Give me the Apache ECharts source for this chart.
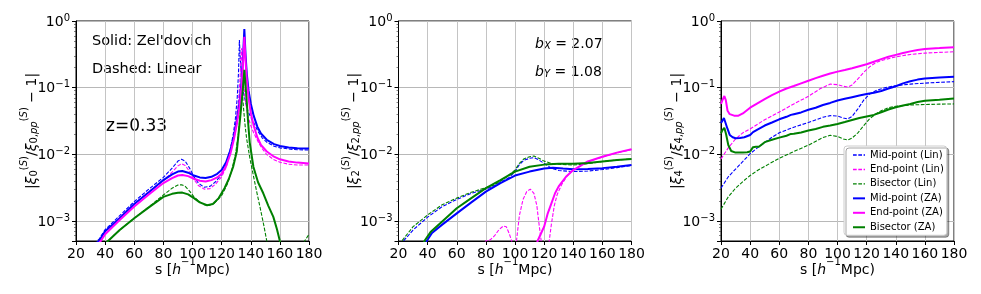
<!DOCTYPE html>
<html><head><meta charset="utf-8">
<script src="https://cdn.jsdelivr.net/npm/echarts@6/dist/echarts.min.js"></script>
<style>html,body{margin:0;padding:0;background:#fff}#c{width:981px;height:294px}</style>
</head><body><div id="c"></div>
<script>
// ---------- axes / ticks ----------
const xTicks = [20, 40, 60, 80, 100, 120, 140, 160, 180];
const yDecades = [1e-3, 1e-2, 1e-1, 1];
const yMin = 5e-4, yMax = 1;
const legendNames = ['Mid-point (Lin)', 'End-point (Lin)', 'Bisector (Lin)', 'Mid-point (ZA)', 'End-point (ZA)', 'Bisector (ZA)'];
const multipoles = ['0', '2', '4'];

// ---------- panel 1 : monopole ----------
const p0MidLin = [[20,2.3e-4],[30,3.9e-4],[36,5.4e-4],[40,7.4e-4],[50,1.2e-3],[60,1.95e-3],[70,3.0e-3],[80,4.5e-3],[86,6.2e-3],[90,7.9e-3],[92.5,8.4e-3],[95,7.9e-3],[98,6.2e-3],[101,4.6e-3],[104,3.7e-3],[108,3.2e-3],[112,3.3e-3],[116,3.9e-3],[120,5.0e-3],[123,7.0e-3],[126,0.012],[128,0.02],[129.5,0.035],[130.7,0.07],[131.6,0.17],[132.2,0.52],[132.9,0.25],[133.8,0.13],[135,0.085],[136.5,0.06],[138,0.045],[140,0.036],[142,0.03],[145,0.022],[148,0.0175],[151,0.0152],[156,0.0132],[160,0.0125],[166,0.012],[172,0.0117],[180,0.0116]];
const p0EndLin = [[20,2.1e-4],[30,3.6e-4],[37,5.2e-4],[40,6.8e-4],[50,1.13e-3],[60,1.8e-3],[70,2.75e-3],[80,4.0e-3],[86,5.4e-3],[90,6.7e-3],[92.5,7.2e-3],[95,6.8e-3],[98,5.5e-3],[101,4.2e-3],[104,3.4e-3],[108,3.0e-3],[112,3.05e-3],[116,3.6e-3],[120,4.6e-3],[123,6.3e-3],[126,0.0105],[128,0.017],[130,0.032],[131.5,0.06],[132.5,0.12],[133.6,0.39],[134.4,0.2],[135.3,0.1],[136.5,0.06],[138,0.038],[140,0.027],[142,0.021],[145,0.0155],[148,0.012],[151,0.0099],[156,0.0083],[160,0.0076],[166,0.0071],[172,0.0069],[180,0.0069]];
const p0BisLin = [[20,1.6e-4],[30,2.8e-4],[42,5e-4],[50,7.3e-4],[60,1.1e-3],[70,1.62e-3],[80,2.45e-3],[86,3.1e-3],[90,3.45e-3],[92.5,3.5e-3],[95,3.3e-3],[98,2.8e-3],[101,2.3e-3],[104,2.0e-3],[108,1.75e-3],[111,1.7e-3],[115,1.85e-3],[120,2.4e-3],[124,3.6e-3],[127,5.8e-3],[129.5,0.01],[131.5,0.02],[133,0.045],[134.2,0.085],[135.2,0.045],[136.2,0.026],[137.2,0.017],[139.5,8.5e-3],[141.8,4.8e-3],[144,2.8e-3],[146.4,1.6e-3],[149,8.5e-4],[151,5e-4],[154,2.5e-4],[160,8e-5],[168,8e-5],[173,2.5e-4],[177,5e-4],[180,6.3e-4]];
const p0MidZA = [[20,2.2e-4],[30,3.7e-4],[36,5.1e-4],[40,7.0e-4],[50,1.1e-3],[60,1.8e-3],[70,2.7e-3],[80,4.1e-3],[86,5.0e-3],[90,5.5e-3],[93,5.6e-3],[97,5.3e-3],[101,4.8e-3],[105,4.5e-3],[109,4.4e-3],[113,4.6e-3],[117,5.1e-3],[120,5.8e-3],[123,7.5e-3],[126,0.0115],[128.5,0.019],[130.5,0.033],[132.3,0.06],[133.6,0.12],[134.6,0.26],[135.6,0.76],[136.4,0.32],[137.3,0.16],[138.5,0.09],[140,0.058],[142,0.038],[144.5,0.026],[147,0.0205],[151,0.0165],[156,0.0142],[160,0.0133],[166,0.0126],[172,0.0123],[180,0.0122]];
const p0EndZA = [[20,2.0e-4],[30,3.4e-4],[37,5e-4],[40,6.3e-4],[50,1.03e-3],[60,1.65e-3],[70,2.5e-3],[80,3.7e-3],[86,4.4e-3],[90,4.8e-3],[93,4.9e-3],[97,4.7e-3],[101,4.3e-3],[105,4.0e-3],[109,3.9e-3],[113,4.1e-3],[117,4.5e-3],[120,5.1e-3],[123,6.6e-3],[126,0.0102],[128.5,0.017],[130.5,0.029],[132.3,0.052],[133.6,0.1],[134.6,0.21],[135.6,0.58],[136.4,0.26],[137.3,0.13],[138.5,0.07],[140,0.042],[142,0.027],[144.5,0.018],[147,0.0138],[151,0.011],[156,0.0092],[160,0.0084],[166,0.0078],[172,0.0075],[180,0.0073]];
const p0BisZA = [[20,1.6e-4],[30,2.8e-4],[42,5e-4],[50,7.3e-4],[60,1.1e-3],[70,1.6e-3],[80,2.3e-3],[86,2.55e-3],[90,2.65e-3],[93,2.66e-3],[97,2.5e-3],[101,2.2e-3],[105,1.9e-3],[110,1.72e-3],[114,1.8e-3],[118,2.2e-3],[122,3.1e-3],[125,4.3e-3],[128,6.6e-3],[130.4,0.011],[132.7,0.035],[134.3,0.08],[135.6,0.185],[136.4,0.11],[137.3,0.06],[138.2,0.03],[139.3,0.015],[141.8,6.5e-3],[145,3.8e-3],[148.6,2.6e-3],[152,1.7e-3],[155.5,1.15e-3],[158,7.5e-4],[160,5e-4],[165,2e-4]];

// ---------- panel 2 : quadrupole ----------
const p1MidLin = [[20,3.0e-4],[23.4,5e-4],[30,7.3e-4],[40,1.14e-3],[50,1.64e-3],[60,2.1e-3],[70,2.6e-3],[80,3.0e-3],[86,3.4e-3],[92,4.0e-3],[96,4.5e-3],[100,5.5e-3],[103,7.0e-3],[106,8.1e-3],[110,8.7e-3],[113,8.9e-3],[116,8.3e-3],[120,7.3e-3],[125,6.2e-3],[130,5.7e-3],[140,5.5e-3],[150,5.6e-3],[160,5.9e-3],[170,6.3e-3],[180,6.8e-3]];
const p1EndLin = [[60,1e-4],[70,2.2e-4],[76,3.8e-4],[80,5.0e-4],[83,5.2e-4],[86,6.0e-4],[89,7.4e-4],[92,8.4e-4],[94,8.2e-4],[96,6.5e-4],[97.7,5e-4],[99,2e-4],[99.5,1e-5],[100,2e-4],[101,5e-4],[103,1.2e-3],[105.5,2.1e-3],[108,2.75e-3],[110.5,3.0e-3],[113,2.6e-3],[115,1.7e-3],[116.5,9e-4],[118,5e-4],[119.5,2e-4],[121,1e-5],[122,2e-4],[123.5,5e-4],[125,9e-4],[127,1.7e-3],[129,2.5e-3],[132,3.5e-3],[136,4.8e-3],[140,5.8e-3],[150,7.7e-3],[160,9.1e-3],[170,0.0105],[180,0.0118]];
const p1BisLin = [[20,3.6e-4],[22.3,5e-4],[30,8.2e-4],[40,1.23e-3],[50,1.75e-3],[60,2.2e-3],[70,2.7e-3],[80,3.15e-3],[86,3.5e-3],[92,4.2e-3],[96,4.9e-3],[100,5.8e-3],[103,7.3e-3],[106,8.5e-3],[110,9.2e-3],[113,9.4e-3],[116,8.8e-3],[120,7.9e-3],[125,7.3e-3],[130,7.1e-3],[140,6.9e-3],[150,7.2e-3],[160,7.8e-3],[170,8.2e-3],[180,8.5e-3]];
const p1MidZA = [[36,3e-4],[39.4,5e-4],[43,6.6e-4],[50,8.8e-4],[60,1.3e-3],[70,1.9e-3],[80,2.75e-3],[90,3.7e-3],[100,4.8e-3],[110,5.5e-3],[120,6.1e-3],[126,6.3e-3],[133,6.1e-3],[140,5.95e-3],[150,6.0e-3],[160,6.2e-3],[170,6.5e-3],[180,6.9e-3]];
const p1EndZA = [[110,1e-4],[113,3e-4],[115.5,5e-4],[118,6.6e-4],[120,8.2e-4],[122.5,1.3e-3],[125,1.84e-3],[127.5,2.6e-3],[130,3.3e-3],[135,4.6e-3],[140,5.8e-3],[150,7.8e-3],[160,9.2e-3],[170,0.0106],[180,0.0119]];
const p1BisZA = [[34,3e-4],[37.8,5e-4],[42,6.8e-4],[50,9.8e-4],[60,1.55e-3],[70,2.2e-3],[80,3.1e-3],[90,4.1e-3],[100,5.5e-3],[110,6.5e-3],[120,7.0e-3],[130,7.2e-3],[140,7.2e-3],[150,7.4e-3],[160,7.8e-3],[170,8.2e-3],[180,8.5e-3]];

// ---------- panel 3 : hexadecapole ----------
const p2MidLin = [[20,3.1e-3],[25,4.6e-3],[30,6.0e-3],[35,7.8e-3],[40,0.0102],[45,0.0125],[50,0.015],[55,0.018],[60,0.021],[70,0.0255],[80,0.030],[90,0.036],[95,0.038],[100,0.0375],[104,0.035],[107,0.034],[110,0.037],[114,0.048],[118,0.065],[122,0.08],[127,0.092],[133,0.1],[140,0.107],[150,0.113],[160,0.117],[170,0.12],[180,0.123]];
const p2EndLin = [[20,8.5e-3],[25,0.0125],[30,0.017],[35,0.021],[40,0.024],[50,0.033],[60,0.043],[70,0.057],[80,0.074],[88,0.096],[95,0.113],[100,0.111],[104,0.105],[107,0.102],[110,0.11],[114,0.135],[118,0.17],[122,0.205],[126,0.235],[130,0.255],[140,0.29],[150,0.315],[160,0.33],[170,0.338],[180,0.345]];
const p2BisLin = [[20,1.5e-3],[25,2.3e-3],[30,3.1e-3],[35,3.9e-3],[40,4.8e-3],[45,5.7e-3],[50,6.6e-3],[60,8.7e-3],[70,0.011],[80,0.0137],[90,0.0178],[95,0.0193],[100,0.0185],[104,0.017],[107,0.0164],[110,0.0175],[114,0.021],[118,0.027],[122,0.034],[126,0.04],[130,0.045],[135,0.05],[140,0.0525],[150,0.055],[160,0.0558],[170,0.0565],[180,0.057]];
const p2MidZA = [[20,0.0295],[21,0.032],[22,0.035],[23,0.033],[24.5,0.024],[26,0.0195],[28,0.018],[30,0.0174],[33,0.0175],[36,0.018],[40,0.0195],[42,0.0215],[45,0.0235],[50,0.027],[55,0.030],[60,0.0335],[65,0.0365],[68,0.039],[70,0.040],[75,0.0425],[80,0.0465],[85,0.05],[90,0.055],[95,0.059],[100,0.064],[105,0.068],[110,0.072],[115,0.076],[120,0.080],[125,0.084],[130,0.089],[135,0.097],[140,0.105],[145,0.116],[150,0.125],[155,0.132],[160,0.137],[170,0.142],[180,0.146]];
const p2EndZA = [[20,0.057],[21,0.065],[22.3,0.075],[23.3,0.065],[24.5,0.045],[26,0.04],[29,0.038],[32,0.038],[35,0.041],[40,0.05],[45,0.058],[50,0.067],[55,0.077],[60,0.087],[65,0.097],[70,0.106],[75,0.116],[80,0.127],[85,0.139],[90,0.151],[95,0.163],[100,0.174],[105,0.184],[110,0.195],[115,0.21],[120,0.224],[125,0.245],[130,0.268],[135,0.29],[140,0.31],[145,0.33],[150,0.35],[155,0.368],[160,0.38],[165,0.388],[170,0.393],[180,0.405]];
const p2BisZA = [[20,0.0206],[21,0.023],[22.3,0.025],[23.5,0.02],[25,0.0138],[27,0.0112],[30,0.0106],[35,0.0106],[38,0.0107],[40,0.011],[42,0.0128],[44,0.013],[46,0.013],[50,0.0152],[55,0.0165],[60,0.0178],[65,0.019],[68,0.0202],[70,0.0203],[75,0.0213],[80,0.0227],[85,0.024],[90,0.0258],[95,0.027],[100,0.0285],[105,0.0305],[110,0.0327],[115,0.035],[120,0.037],[125,0.039],[130,0.0427],[135,0.047],[140,0.0507],[145,0.054],[150,0.057],[155,0.061],[160,0.0638],[170,0.066],[180,0.069]];

const panelData = [
  [p0MidLin, p0EndLin, p0BisLin, p0MidZA, p0EndZA, p0BisZA],
  [p1MidLin, p1EndLin, p1BisLin, p1MidZA, p1EndZA, p1BisZA],
  [p2MidLin, p2EndLin, p2BisLin, p2MidZA, p2EndZA, p2BisZA]
];
const seriesColors = ['#0000ff', '#ff00ff', '#008000', '#0000ff', '#ff00ff', '#008000'];

// ---------- layout ----------
const FONT = 'DejaVu Sans';
const gridLefts = [76, 398.5, 721];
const GRID_TOP = 21, GRID_W = 233, GRID_H = 220;

const supRich = {
  t: {fontFamily: FONT, fontSize: 14, color: '#000', lineHeight: 20, verticalAlign: 'bottom'},
  i: {fontFamily: FONT, fontSize: 14, color: '#000', lineHeight: 20, verticalAlign: 'bottom', fontStyle: 'italic'},
  sp: {fontFamily: FONT, fontSize: 10, color: '#000', lineHeight: 10, verticalAlign: 'top'},
  spi: {fontFamily: FONT, fontSize: 10, color: '#000', lineHeight: 10, verticalAlign: 'top', fontStyle: 'italic'},
  sb: {fontFamily: FONT, fontSize: 10, color: '#000', lineHeight: 12, verticalAlign: 'bottom'},
  sbi: {fontFamily: FONT, fontSize: 10, color: '#000', lineHeight: 12, verticalAlign: 'bottom', fontStyle: 'italic'}
};

function yName(l) {
  return '{t||}{i|ξ}{sb|' + l + '}{sp|(}{spi|S}{sp|)}{t|/}{i|ξ}{sb|' + l + ',}{sbi|pp}{sp|(}{spi|S}{sp|)}{t| − 1|}';
}

// legend icons (solid / dashed line samples)
const ICON_SOLID = 'path://M0,0H12V2H0Z';
const ICON_DASH = 'path://M0,0L0.01,0L0,0.01Z M0,0.3H3.7V1.7H0Z M5.3,0.3H9V1.7H5.3Z M10.6,0.3H12V1.7H10.6Z M12,2L11.99,2L12,1.99Z';

const grids = [], xAxes = [], yAxes = [], series = [];
for (let p = 0; p < 3; p++) {
  grids.push({left: gridLefts[p], top: GRID_TOP, width: GRID_W, height: GRID_H, show: true,
    borderColor: '#000', borderWidth: 1, backgroundColor: 'transparent', containLabel: false, outerBoundsMode: 'none'});
  xAxes.push({type: 'value', gridIndex: p, min: xTicks[0], max: xTicks[xTicks.length - 1], interval: 20,
    axisLine: {show: true, onZero: false, lineStyle: {color: '#000', width: 1}},
    axisTick: {show: true, inside: false, length: 4, lineStyle: {color: '#000'}},
    axisLabel: {fontFamily: FONT, fontSize: 14, color: '#000', margin: 6, showMinLabel: true, showMaxLabel: true, hideOverlap: false},
    splitLine: {show: true, lineStyle: {color: '#c4c4c4', width: 1}},
    name: '{t|s [}{i|h}{sp|−1}{t|Mpc)}', nameLocation: 'middle', nameGap: 16, nameMoveOverlap: false,
    nameTextStyle: {rich: supRich}
  });
  yAxes.push({type: 'log', logBase: 10, gridIndex: p, min: yMin, max: yMax,
    axisLine: {show: true, onZero: false, lineStyle: {color: '#000', width: 1}},
    axisTick: {show: true, inside: false, length: 4, lineStyle: {color: '#000'}},
    minorTick: {show: true, splitNumber: 9, length: 2, lineStyle: {color: '#333', width: 0.6}},
    axisLabel: {
      margin: 6, showMinLabel: true, hideOverlap: false,
      formatter: function (v) {
        const e = Math.log10(v), r = Math.round(e);
        if (Math.abs(e - r) > 1e-6) return '';
        return '{b|10}{s|' + (r < 0 ? '−' + (-r) : String(r)) + '}';
      },
      rich: {
        b: {fontFamily: FONT, fontSize: 14, color: '#000', lineHeight: 16, verticalAlign: 'bottom'},
        s: {fontFamily: FONT, fontSize: 10, color: '#000', lineHeight: 10, verticalAlign: 'top', padding: [0, 0, 10, 0]}
      }
    },
    splitLine: {show: true, lineStyle: {color: '#b8b8b8', width: 1}},
    name: yName(multipoles[p]), nameLocation: 'middle', nameGap: 37, nameMoveOverlap: false,
    nameTextStyle: {rich: supRich}
  });
  const d = panelData[p];
  for (let k = 0; k < 6; k++) {
    const dashed = k < 3;
    series.push({
      name: legendNames[k], type: 'line', xAxisIndex: p, yAxisIndex: p, data: d[k],
      symbol: 'none', showSymbol: false, clip: true, smooth: false, animation: false,
      lineStyle: {color: seriesColors[k], width: dashed ? 1.1 : 2, type: dashed ? [3.7, 1.6] : 'solid'},
      itemStyle: {color: seriesColors[k]}, z: dashed ? 2 : 3
    });
  }
}

const chart = echarts.init(document.getElementById('c'), null, {renderer: 'canvas'});
chart.setOption({
  animation: false,
  backgroundColor: '#fff',
  grid: grids, xAxis: xAxes, yAxis: yAxes, series: series,
  legend: {
    data: legendNames.map((n, k) => ({name: n, icon: k < 3 ? ICON_DASH : ICON_SOLID, itemStyle: {color: seriesColors[k]}})),
    orient: 'vertical', left: 844, top: 146,
    padding: [3, 3, 2, 9], itemGap: 2.45, itemWidth: 12, itemHeight: 2, symbolKeepAspect: false,
    textStyle: {fontFamily: FONT, fontSize: 10, color: '#000', lineHeight: 12},
    backgroundColor: '#fff', borderColor: '#cccccc', borderWidth: 1, borderRadius: 3,
    shadowColor: 'rgba(0,0,0,0.35)', shadowOffsetX: 2, shadowOffsetY: 2, shadowBlur: 0,
    selectedMode: false
  },
  graphic: [
    {type: 'text', left: 92, top: 34, style: {text: "Solid: Zel'dovich", font: '14.5px "DejaVu Sans"', fill: '#000'}},
    {type: 'text', left: 92, top: 62, style: {text: 'Dashed: Linear', font: '14.5px "DejaVu Sans"', fill: '#000'}},
    {type: 'text', left: 106, top: 118, style: {text: 'z=0.33', font: '17px "DejaVu Sans"', fill: '#000'}},
    {type: 'text', left: 535, top: 37, style: {text: '{i|b}{sbi|X}{t| = 2.07}', rich: supRich}},
    {type: 'text', left: 535, top: 65, style: {text: '{i|b}{sbi|Y}{t| = 1.08}', rich: supRich}}
  ]
});
</script>
</body></html>
